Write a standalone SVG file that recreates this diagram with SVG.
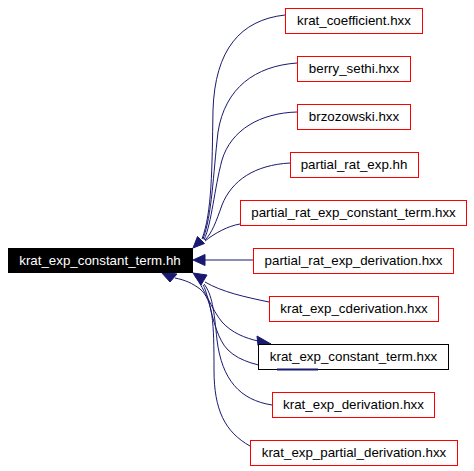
<svg xmlns="http://www.w3.org/2000/svg" width="474" height="471" viewBox="0 0 474 471">
<defs>
<style>
.n rect{fill:#fff;stroke:#ff0000;stroke-width:1}
.n text,.m text{font-family:"Liberation Sans",Arial,sans-serif;font-size:13.33px;text-anchor:middle;fill:#000}
.m rect{fill:#000;stroke:#000}
.m text{fill:#fff}
.k rect{stroke:#000}
.e path{fill:none;stroke:#191970;stroke-width:1}
.e polygon{fill:#191970;stroke:#191970;stroke-width:1}
</style>
</defs>
<rect width="474" height="471" fill="#fff"/>
<g id="edges" class="e">
<path d="M285,15 C240,20 215,50 213,110 C212,170 212,212 202,239"/>
<path d="M297,63 C255,66 225,88 218,132 C213,176 212,215 203,239"/>
<path d="M297,112 C260,113 231,130 222,160 C214,190 212,222 204,240"/>
<path d="M290,163 C255,165 232,180 222,205 C216,222 212,233 205,240"/>
<path d="M240,224 C228,226 215,233 205,241"/>
<polygon points="193,248 197.5,236.5 204.5,243.5"/>
<path d="M253,260 L205,260"/>
<polygon points="193,260 205,254.5 205,265.5"/>
<path d="M269,302 C245,297 222,292 205,282"/>
<path d="M272,405 C240,400 222,380 217,340 C214,310 212,294 204,284"/>
<path d="M318,369 L280,369 C260,366 240,362 228,350 C218,340 213,320 209,302 C206,292 205,288 203,285"/>
<polygon points="193,273 207,275 201,285"/>
<path d="M250,446 C225,432 214,410 214,370 C214,322 213,300 200,289 C192,283 185,280 175,278"/>
<polygon points="161,272 177,274 170,282"/>
<path d="M195,276 C205,290 212,310 222,322 C232,333 245,338 258,341"/>
<polygon points="271,344 257,336 258,345.5"/>
</g>
<g id="main" class="m">
<rect x="8.5" y="248.5" width="184" height="24"/>
<text x="100" y="265">krat_exp_constant_term.hh</text>
</g>
<g id="n1" class="n"><rect x="285.5" y="8.5" width="137" height="25"/><text x="354" y="25">krat_coefficient.hxx</text></g>
<g id="n2" class="n"><rect x="297.5" y="56.5" width="113" height="25"/><text x="354" y="73">berry_sethi.hxx</text></g>
<g id="n3" class="n"><rect x="297.5" y="104.5" width="113" height="25"/><text x="354" y="121">brzozowski.hxx</text></g>
<g id="n4" class="n"><rect x="290.5" y="152.5" width="128" height="25"/><text x="354" y="169">partial_rat_exp.hh</text></g>
<g id="n5" class="n"><rect x="240.5" y="200.5" width="226" height="25"/><text x="353.5" y="217">partial_rat_exp_constant_term.hxx</text></g>
<g id="n6" class="n"><rect x="253.5" y="248.5" width="200" height="25"/><text x="353.5" y="265">partial_rat_exp_derivation.hxx</text></g>
<g id="n7" class="n"><rect x="269.5" y="296.5" width="169" height="25"/><text x="354" y="313">krat_exp_cderivation.hxx</text></g>
<g id="n8" class="n k"><rect x="258.5" y="344.5" width="190" height="25"/><text x="353.5" y="361">krat_exp_constant_term.hxx</text></g>
<g id="n9" class="n"><rect x="272.5" y="392.5" width="162" height="25"/><text x="353.5" y="409">krat_exp_derivation.hxx</text></g>
<g id="n10" class="n"><rect x="250.5" y="440.5" width="207" height="25"/><text x="354" y="457">krat_exp_partial_derivation.hxx</text></g>
<path d="M277,369.5 L318,369.5" stroke="#191970" stroke-width="2" fill="none"/>
</svg>
